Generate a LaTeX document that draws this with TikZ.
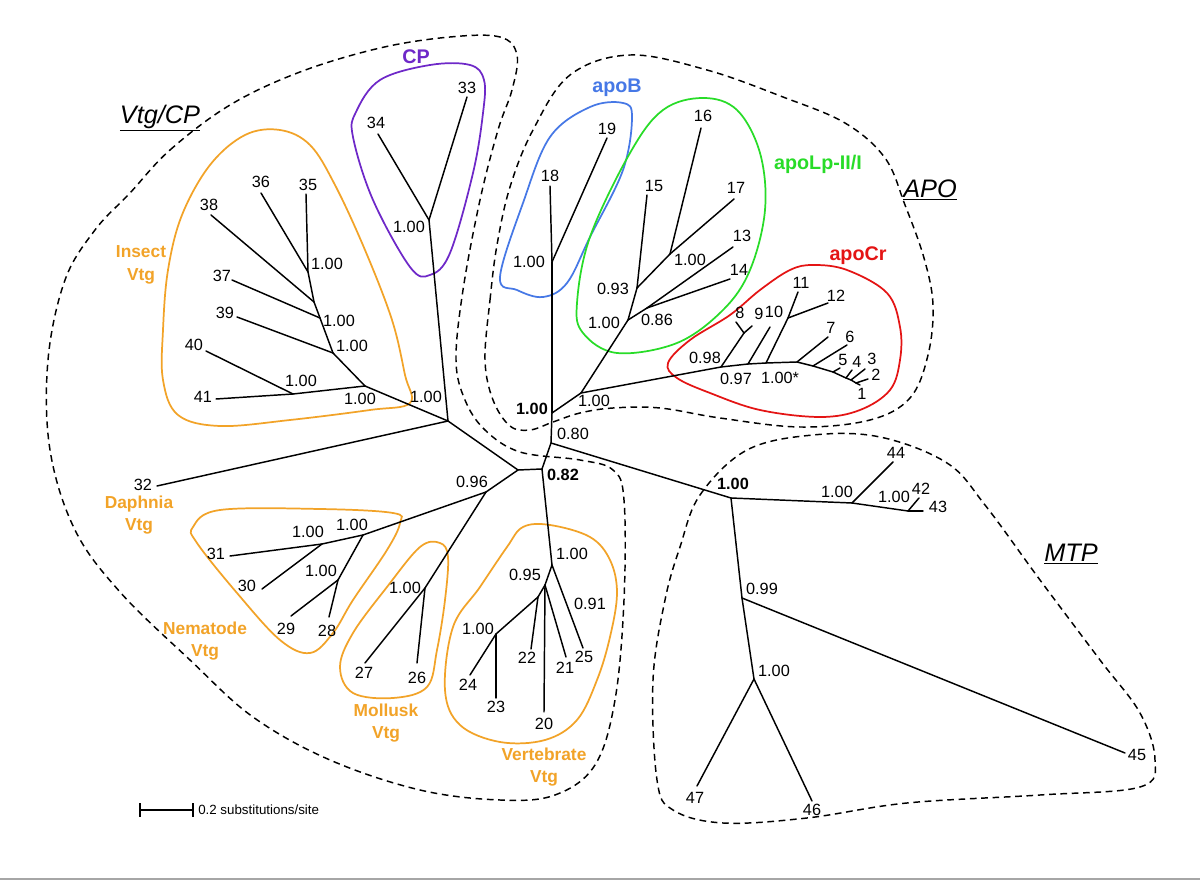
\documentclass[tikz,border=0pt]{standalone}
\usepackage{fontspec}
\setmainfont{Liberation Sans}
\definecolor{cOr}{RGB}{242,163,40}
\definecolor{cPu}{RGB}{110,40,200}
\definecolor{cBl}{RGB}{70,120,230}
\definecolor{cGr}{RGB}{40,220,40}
\definecolor{cRe}{RGB}{228,20,20}
\begin{document}
\begin{tikzpicture}[x=0.75pt,y=-0.75pt,
  br/.style={line width=1.1pt, line cap=round},
  hull/.style={line width=1.3pt},
  dhull/.style={line width=1.1pt, dash pattern=on 5pt off 3.5pt},
  num/.style={inner sep=0pt, font=\fontsize{12.2}{14}\selectfont},
  bnum/.style={inner sep=0pt, font=\fontsize{12.2}{14}\selectfont\bfseries},
  grp/.style={inner sep=0pt, align=center, font=\fontsize{13}{16.8}\selectfont\bfseries},
  ttl/.style={inner sep=0pt, font=\fontsize{14.8}{16}\selectfont\bfseries},
  big/.style={inner sep=0pt, font=\fontsize{19}{22}\selectfont\itshape}]
\useasboundingbox (0,0) rectangle (1200,880);
\fill[white] (0,0) rectangle (1200,880);
\draw[line width=1.5pt, black!35] (0,879) -- (1200,879);

% ---------- outlines ----------
\draw[dhull] plot[smooth cycle, tension=0.6] coordinates {(130,193) (170,150) (230,105) (300,72) (380,48) (450,37) (500,37) (517,55) (512,90) (498,130) (480,200) (463,290) (456,360) (465,400) (485,430) (520,452) (580,460) (613,470) (624,500) (624,600) (615,700) (595,765) (555,795) (500,800) (420,790) (330,760) (253,717) (190,660) (120,592) (75,530) (50,450) (48,360) (65,280) (95,230)};
\draw[dhull] plot[smooth cycle, tension=0.6] coordinates {(485,360) (490,300) (497,245) (510,187) (533,130) (570,75) (630,55) (707,70) (783,97) (845,123) (885,158) (905,205) (924,258) (933,305) (928,355) (910,398) (870,420) (800,427) (720,418) (660,408) (613,408) (580,413) (553,422) (530,430) (510,426) (493,400)};
\draw[dhull] plot[smooth cycle, tension=0.6] coordinates {(680,547) (700,495) (747,450) (813,435) (880,437) (947,463) (985,505) (1040,580) (1100,660) (1140,713) (1155,760) (1140,787) (1040,795) (907,803) (807,818) (723,823) (673,810) (657,780) (653,680) (665,600)};

\draw[hull, cPu] plot[smooth cycle, tension=0.6] coordinates {(356,112) (380,80) (430,65) (470,65) (484,80) (483,113) (473,173) (450,253) (430,275) (410,267) (373,200) (353,137)};
\draw[hull, cBl] plot[smooth cycle, tension=0.6] coordinates {(500,277) (523,203) (550,137) (590,107) (623,103) (632,117) (623,170) (590,237) (567,283) (543,297) (517,290)};
\draw[hull, cGr] plot[smooth cycle, tension=0.6] coordinates {(703,98) (737,110) (760,153) (765,210) (750,270) (723,310) (677,343) (617,353) (583,333) (577,303) (590,237) (630,153) (663,110)};
\draw[hull, cRe] plot[smooth cycle, tension=0.6] coordinates {(668,363) (690,340) (730,315) (760,290) (790,270) (813,265) (847,270) (887,293) (900,327) (900,360) (890,390) (860,410) (820,417) (760,410) (710,393) (677,378)};
\draw[hull, cOr] plot[smooth cycle, tension=0.6] coordinates {(163,330) (168,270) (182,215) (210,165) (245,135) (280,130) (310,145) (335,185) (365,250) (392,320) (405,375) (410,403) (370,410) (290,420) (220,426) (178,415) (163,380)};
\draw[hull, cOr] plot[smooth cycle, tension=0.6] coordinates {(193,527) (220,510) (320,509) (393,513) (400,523) (387,550) (353,600) (333,633) (310,653) (280,640) (237,593) (197,543)};
\draw[hull, cOr] plot[smooth cycle, tension=0.6] coordinates {(448,557) (445,600) (437,650) (427,687) (393,698) (353,693) (340,667) (353,633) (387,587) (420,547) (440,543)};
\draw[hull, cOr] plot[smooth cycle, tension=0.6] coordinates {(523,527) (550,525) (590,537) (610,560) (617,593) (610,637) (597,680) (577,720) (545,740) (500,742) (460,725) (445,690) (453,627) (480,587) (507,547)};

% ---------- internal nodes ----------
\coordinate (A) at (542,469);  \coordinate (B) at (518,470);
\coordinate (C) at (448,421);  \coordinate (D) at (551,443);
\coordinate (E) at (552,413);  \coordinate (F) at (731,498);
\coordinate (G) at (552,262);  \coordinate (H) at (581,393);
\coordinate (I) at (628,320);  \coordinate (J) at (721,367);
\coordinate (K) at (637,288);  \coordinate (L) at (670,254);
\coordinate (M) at (647,308);  \coordinate (N) at (748,364);
\coordinate (O) at (766,363);  \coordinate (P) at (788,318);
\coordinate (Q) at (797,362);  \coordinate (R) at (813,366);
\coordinate (S) at (833,372);  \coordinate (T) at (846,378);
\coordinate (U) at (851,380);  \coordinate (V) at (856,383);
\coordinate (X8) at (744,333);
\coordinate (W) at (429,220);  \coordinate (Y) at (365,386);
\coordinate (Z) at (293,394);  \coordinate (AA) at (333,353);
\coordinate (AB) at (320,318); \coordinate (AC) at (314,302);
\coordinate (AD) at (308,272); \coordinate (AE) at (486,492);
\coordinate (AF) at (363,535); \coordinate (AG) at (322,544);
\coordinate (AH) at (338,580); \coordinate (AI) at (425,588);
\coordinate (AJ) at (552,565); \coordinate (AK) at (545,585);
\coordinate (AL) at (538,597); \coordinate (AM) at (496,634);
\coordinate (AN) at (852,503); \coordinate (AO) at (908,511);
\coordinate (AP) at (742,598); \coordinate (AQ) at (754,679);

% ---------- tips ----------
\coordinate (t1) at (860,385);  \coordinate (t2) at (868,379);
\coordinate (t3) at (865,369);  \coordinate (t4) at (852,370);
\coordinate (t5) at (840,368);  \coordinate (t6) at (847,345);
\coordinate (t7) at (828,337);  \coordinate (t8) at (736,322);
\coordinate (t9) at (752,326);  \coordinate (t10) at (770,327);
\coordinate (t11) at (798,292); \coordinate (t12) at (828,303);
\coordinate (t13) at (733,247); \coordinate (t14) at (730,279);
\coordinate (t15) at (647,195); \coordinate (t16) at (701,128);
\coordinate (t17) at (734,199); \coordinate (t18) at (550,186);
\coordinate (t19) at (607,138); \coordinate (t20) at (544,712);
\coordinate (t21) at (566,657); \coordinate (t22) at (531,649);
\coordinate (t23) at (496,698); \coordinate (t24) at (470,675);
\coordinate (t25) at (583,648); \coordinate (t26) at (417,663);
\coordinate (t27) at (365,663); \coordinate (t28) at (329,617);
\coordinate (t29) at (291,616); \coordinate (t30) at (262,589);
\coordinate (t31) at (230,556); \coordinate (t32) at (157,486);
\coordinate (t33) at (467,97);  \coordinate (t34) at (378,134);
\coordinate (t35) at (306,194); \coordinate (t36) at (261,193);
\coordinate (t37) at (232,280); \coordinate (t38) at (211,215);
\coordinate (t39) at (237,317); \coordinate (t40) at (206,351);
\coordinate (t41) at (216,399); \coordinate (t42) at (919,498);
\coordinate (t43) at (923,511); \coordinate (t44) at (893,462);
\coordinate (t45) at (1125,753); \coordinate (t46) at (812,801);
\coordinate (t47) at (697,786);

% ---------- branches ----------
\foreach \a/\b in {A/B, B/C, A/D, D/E, D/F, E/G, E/H, G/t18, G/t19, H/I, H/J,
  I/K, I/M, K/t15, K/L, L/t16, L/t17, M/t13, M/t14, J/X8, X8/t9, X8/t8, J/N,
  N/t10, N/O, O/P, P/t11, P/t12, O/Q, Q/t7, Q/R, R/t6, R/S, S/t5, S/T, T/t4,
  T/U, U/t3, U/V, V/t2, V/t1,
  C/W, W/t33, W/t34, C/t32, C/Y, Y/Z, Z/t41, Z/t40, Y/AA, AA/t39, AA/AB,
  AB/t37, AB/AC, AC/t38, AC/AD, AD/t35, AD/t36,
  B/AE, AE/AF, AF/AG, AG/t31, AG/t30, AF/AH, AH/t29, AH/t28, AE/AI, AI/t27, AI/t26,
  A/AJ, AJ/t25, AJ/AK, AK/t21, AK/t20, AK/AL, AL/t22, AL/AM, AM/t24, AM/t23,
  F/AN, AN/t44, AN/AO, AO/t42, AO/t43, F/AP, AP/t45, AP/AQ, AQ/t47, AQ/t46}
  \draw[br] (\a) -- (\b);

% ---------- leaf labels ----------
\foreach \n/\x/\y in {1/862/394, 2/876/375, 3/872/359, 4/857/362, 5/843/360,
  6/850/337, 7/831/328, 8/740/313, 9/759/314, 10/774/312, 11/801/283, 12/836/296,
  13/742/236, 14/739/270, 15/654/186, 16/703/116, 17/736/188, 18/550/176,
  19/607/129, 20/544/724, 21/565/668, 22/527/658, 23/496/707, 24/468/685,
  25/584/657, 26/417/678, 27/364/673, 28/327/631, 29/286/629, 30/247/586,
  31/216/554, 32/143/485, 33/467/88, 34/376/123, 35/308/185, 36/261/182,
  37/222/276, 38/209/205, 39/225/313, 40/194/345, 41/203/397, 42/921/489,
  43/938/507, 44/896/453, 45/1137/755, 46/812/810, 47/695/798}
  \node[num] (lab\n) at (\x,\y) {\n};

% ---------- support values ----------
\node[bnum] (sE) at (532,409) {1.00};
\node[num] (sD) at (573,434) {0.80};
\node[bnum] (sA) at (563,475) {0.82};
\node[bnum] (sF) at (733,484) {1.00};
\node[num] (sG) at (529,262) {1.00};
\node[num] (sH) at (594,401) {1.00};
\node[num] (sI) at (604,323) {1.00};
\node[num] (sK) at (613,289) {0.93};
\node[num] (sL) at (690,260) {1.00};
\node[num] (sM) at (657,320) {0.86};
\node[num] (sJ) at (705,358) {0.98};
\node[num] (sN) at (736,379) {0.97};
\node[num] (sO) at (780,378) {1.00*};
\node[num] (sW) at (409,227) {1.00};
\node[num] (sC) at (426,397) {1.00};
\node[num] (sY) at (360,399) {1.00};
\node[num] (sZ) at (301,381) {1.00};
\node[num] (sAA) at (352,346) {1.00};
\node[num] (sAB) at (339,321) {1.00};
\node[num] (sAD) at (327,264) {1.00};
\node[num] (sAE) at (472,482) {0.96};
\node[num] (sAF) at (352,525) {1.00};
\node[num] (sAG) at (308,532) {1.00};
\node[num] (sAH) at (321,571) {1.00};
\node[num] (sAI) at (405,588) {1.00};
\node[num] (sAJ) at (572,554) {1.00};
\node[num] (s25) at (590,604) {0.91};
\node[num] (sAK) at (525,575) {0.95};
\node[num] (sAM) at (478,629) {1.00};
\node[num] (sAN) at (837,492) {1.00};
\node[num] (sAO) at (894,497) {1.00};
\node[num] (sAP) at (762,589) {0.99};
\node[num] (sAQ) at (774,671) {1.00};

% ---------- group labels ----------
\node[ttl, cPu] (gCP) at (416,57) {CP};
\node[ttl, cBl] (gB) at (617,88) {apoB};
\node[ttl, cGr] (gLp) at (818,164) {apoLp-II/I};
\node[ttl, cRe] (gCr) at (858,256) {apoCr};
\node[grp, cOr] (gIn) at (141,265) {Insect\\Vtg};
\node[grp, cOr] (gDa) at (139,515) {Daphnia\\Vtg};
\node[grp, cOr] (gNe) at (205,641) {Nematode\\Vtg};
\node[grp, cOr] (gMo) at (386,723) {Mollusk\\Vtg};
\node[grp, cOr] (gVe) at (544,767) {Vertebrate\\Vtg};
\node[big] (hV) at (160,118) {\underline{Vtg/CP}};
\node[big] (hA) at (930,190) {\underline{APO}};
\node[big] (hM) at (1071,554) {\underline{MTP}};

% ---------- scale bar ----------
\coordinate (sb1) at (140,810); \coordinate (sb2) at (193,810);
\draw[line width=1pt] (sb1) -- (sb2);
\draw[line width=1pt] ([yshift=-5]sb1) -- ([yshift=5]sb1);
\draw[line width=1pt] ([yshift=-5]sb2) -- ([yshift=5]sb2);
\node[inner sep=0pt, anchor=west, font=\fontsize{10}{11}\selectfont] (sbt) at (198,810) {0.2 substitutions/site};
\end{tikzpicture}
\end{document}
